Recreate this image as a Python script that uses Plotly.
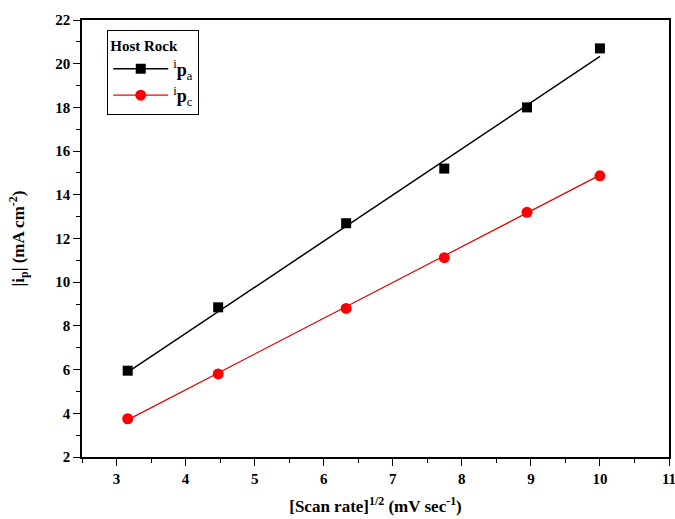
import plotly.graph_objects as go

scan_rate_sqrt = [3.162, 4.472, 6.325, 7.746, 8.944, 10.0]
ipa = [5.95, 8.85, 12.7, 15.2, 18.0, 20.7]
ipc = [3.75, 5.8, 8.8, 11.12, 13.2, 14.87]

fit_x = [3.162, 10.0]
ipa_fit = [5.88, 20.33]
ipc_fit = [3.7, 14.9]

FONT = "Liberation Serif"

fig = go.Figure()
fig.add_trace(go.Scatter(x=fit_x, y=ipa_fit, mode="lines", line=dict(color="black", width=1.5), showlegend=False, hoverinfo="skip"))
fig.add_trace(go.Scatter(x=fit_x, y=ipc_fit, mode="lines", line=dict(color="#e00000", width=1.2), showlegend=False, hoverinfo="skip"))
fig.add_trace(go.Scatter(x=scan_rate_sqrt, y=ipa, mode="markers", marker=dict(symbol="square", color="black", size=10), showlegend=False))
fig.add_trace(go.Scatter(x=scan_rate_sqrt, y=ipc, mode="markers", marker=dict(symbol="circle", color="#ff0000", size=11), showlegend=False))
# legend entries
fig.add_trace(go.Scatter(x=[None], y=[None], mode="lines+markers", name="<sup>i</sup><b>p</b><sub>a</sub>",
                         line=dict(color="black", width=1.5), marker=dict(symbol="square", color="black", size=10)))
fig.add_trace(go.Scatter(x=[None], y=[None], mode="lines+markers", name="<sup>i</sup><b>p</b><sub>c</sub>",
                         line=dict(color="#ff0000", width=1.2), marker=dict(symbol="circle", color="#ff0000", size=11)))

axis_common = dict(
    showgrid=False, zeroline=False, showline=True, linecolor="black", linewidth=1.5, mirror=True,
    ticks="outside", ticklen=7, tickwidth=1.2, tickcolor="black",
    tickfont=dict(family=FONT, size=15, color="black", weight="bold"),
    ticklabeloverflow="allow",
)

fig.update_xaxes(
    range=[2.5, 11], tickmode="array", tickvals=[3, 4, 5, 6, 7, 8, 9, 10, 11],
    minor=dict(tickvals=[2.5, 3.5, 4.5, 5.5, 6.5, 7.5, 8.5, 9.5, 10.5], ticks="outside", ticklen=4, tickcolor="black", tickwidth=1.2),
    title=dict(text="<b>[Scan rate]<sup>1/2</sup> (mV sec<sup>-1</sup>)</b>", font=dict(family=FONT, size=17, color="black"), standoff=14),
    automargin=False,
    **axis_common,
)
fig.update_yaxes(
    range=[2, 22], tickmode="array", tickvals=list(range(2, 23, 2)),
    minor=dict(tickvals=list(range(3, 22, 2)), ticks="outside", ticklen=4, tickcolor="black", tickwidth=1.2),
    title=dict(text="<b>|i<sub>p</sub>| (mA cm<sup>-2</sup>)</b>", font=dict(family=FONT, size=17, color="black"), standoff=26),
    automargin=False,
    **axis_common,
)

fig.update_layout(
    width=675, height=519,
    margin=dict(l=82, r=6, t=20, b=62),
    paper_bgcolor="white", plot_bgcolor="white",
    legend=dict(
        x=0.043, y=0.977, xanchor="left", yanchor="top",
        title=dict(text="<b>Host Rock</b>", font=dict(family=FONT, size=15, color="black")),
        font=dict(family=FONT, size=18, color="black"),
        bordercolor="black", borderwidth=1, bgcolor="white",
        itemwidth=55, tracegroupgap=0,
    ),
    showlegend=True,
)

fig.write_html("out.html", config={"displayModeBar": False},
               post_script="document.body.style.margin='0';document.body.style.padding='0';")
